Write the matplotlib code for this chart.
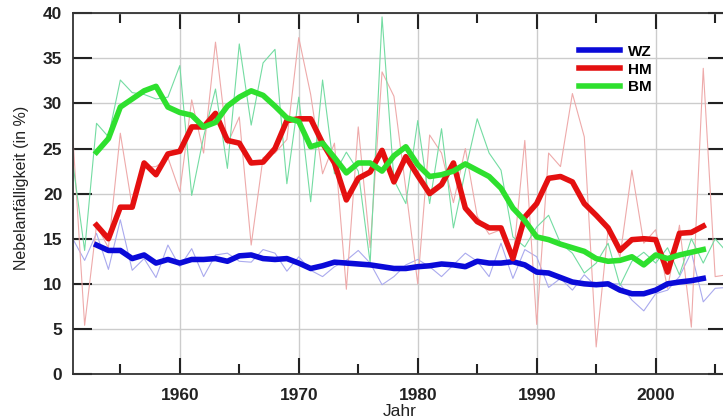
import matplotlib
matplotlib.use('Agg')
import matplotlib.pyplot as plt
from matplotlib.ticker import MultipleLocator

plt.rcParams['font.family'] = ['Liberation Sans', 'DejaVu Sans']

# yearly values (thin lines), 1951-2006
years = list(range(1951, 2007))
wz_year = [15.0, 12.6, 15.6, 11.6, 17.1, 11.5, 12.8, 10.7, 14.3, 11.9,
           13.9, 10.8, 13.2, 13.4, 12.5, 12.4, 13.8, 13.4, 11.4, 13.0,
           11.5, 10.8, 11.9, 12.6, 13.7, 12.3, 9.9, 10.8, 12.1, 12.7,
           11.9, 10.8, 12.1, 13.4, 12.5, 10.8, 14.5, 10.6, 13.8, 13.0,
           9.6, 10.6, 9.3, 11.0, 9.7, 10.0, 10.0, 8.2, 7.0, 8.9,
           9.3, 10.8, 13.5, 8.0, 9.5, 9.6]
hm_year = [26.5, 5.4, 16.5, 14.0, 26.7, 18.5, 22.9, 23.0, 24.0, 20.2,
           30.4, 24.5, 36.8, 25.5, 28.5, 14.3, 24.0, 24.5, 26.0, 37.3,
           31.0, 22.2, 25.6, 9.4, 27.4, 14.0, 33.5, 30.8, 20.5, 10.0,
           26.5, 24.5, 19.0, 25.0, 17.5, 15.5, 16.0, 12.5, 25.9, 5.5,
           24.5, 23.0, 31.1, 26.3, 3.0, 16.0, 13.0, 22.6, 14.5, 16.0,
           9.5, 16.5, 5.2, 33.9, 10.8, 11.0]
bm_year = [23.5, 13.7, 27.8, 26.3, 32.6, 31.2, 31.0, 30.5, 30.7, 34.2,
           19.8, 26.3, 31.6, 22.8, 36.6, 27.6, 34.5, 36.0, 21.1, 30.7,
           19.1, 32.6, 22.2, 24.6, 22.5, 12.3, 39.6, 21.5, 18.9, 28.1,
           18.9, 27.2, 16.2, 22.5, 28.3, 24.5, 22.6, 15.2, 14.1, 16.3,
           17.6, 14.5, 13.4, 11.2, 12.3, 14.5, 9.8, 12.5, 13.5, 12.3,
           14.0, 11.0, 15.0, 12.3, 15.0, 13.5]

# smoothed values (thick lines), 1953-2004
years_smooth = list(range(1953, 2005))
wz_smooth = [14.3, 13.7, 13.7, 12.8, 13.2, 12.3, 12.7, 12.3, 12.7, 12.7,
             12.8, 12.5, 13.1, 13.2, 12.8, 12.7, 12.8, 12.3, 11.7, 12.0,
             12.4, 12.3, 12.2, 12.1, 11.9, 11.7, 11.7, 11.9, 12.0, 12.2,
             12.1, 11.9, 12.5, 12.3, 12.3, 12.45, 12.1, 11.3, 11.2, 10.7,
             10.2, 10.0, 9.9, 10.0, 9.3, 8.9, 8.9, 9.3, 10.0, 10.2,
             10.35, 10.6]
hm_smooth = [16.5, 15.0, 18.5, 18.5, 23.4, 22.1, 24.4, 24.7, 27.4, 27.4,
             28.9, 25.9, 25.6, 23.4, 23.5, 25.0, 28.1, 28.3, 28.3, 25.6,
             23.4, 19.3, 21.7, 22.4, 24.8, 21.3, 24.1, 22.0, 20.0, 21.0,
             23.4, 18.4, 16.9, 16.2, 16.2, 12.8, 17.4, 18.9, 21.7, 21.9,
             21.3, 18.9, 17.6, 16.2, 13.7, 14.9, 15.0, 14.9, 11.3, 15.6,
             15.7, 16.4]
bm_smooth = [24.6, 26.1, 29.6, 30.5, 31.4, 31.9, 29.6, 29.0, 28.7, 27.4,
             27.9, 29.7, 30.7, 31.4, 30.9, 29.7, 28.4, 28.0, 25.2, 25.6,
             24.0, 22.3, 23.4, 23.4, 22.5, 24.2, 25.2, 23.2, 21.9, 22.1,
             22.5, 23.3, 22.6, 21.9, 20.6, 18.4, 17.0, 15.2, 14.9, 14.4,
             14.0, 13.6, 12.8, 12.5, 12.6, 13.0, 12.1, 13.2, 12.8, 13.2,
             13.5, 13.8]

fig = plt.figure(figsize=(7.23, 4.19), dpi=100)
ax = fig.add_axes([0.1006, 0.1074, 0.905, 0.8609])

# thin yearly lines
ax.plot(years, wz_year, color='#aaaaee', lw=0.8)
ax.plot(years, hm_year, color='#eeaaaa', lw=0.8)
ax.plot(years, bm_year, color='#74dca2', lw=0.8)

# thick smoothed lines
ax.plot(years_smooth, wz_smooth, color='#0a0ad8', lw=4.0, label='WZ')
ax.plot(years_smooth, hm_smooth, color='#e41010', lw=4.0, label='HM')
ax.plot(years_smooth, bm_smooth, color='#2ee02e', lw=4.0, label='BM')

ax.set_xlim(1951, 2006)
ax.set_ylim(0, 40)
ax.xaxis.set_major_locator(MultipleLocator(10))
ax.xaxis.set_minor_locator(MultipleLocator(5))
ax.yaxis.set_major_locator(MultipleLocator(5))

ax.grid(True, which='major', color='#cccccc', lw=1.0)
ax.set_axisbelow(True)

ax.tick_params(axis='x', which='major', direction='in', length=11.5, width=1.5,
               top=True, pad=10, labelsize=12.5, colors='#222222')
ax.tick_params(axis='x', which='minor', direction='in', length=7, width=1.5, top=True,
               colors='#222222')
ax.tick_params(axis='y', which='major', direction='in', length=13.5, width=1.5,
               right=True, pad=7.5, labelsize=12.5, colors='#222222')
for lab in ax.get_xticklabels() + ax.get_yticklabels():
    lab.set_fontweight('bold')
    lab.set_color('#222222')

for sp in ax.spines.values():
    sp.set_linewidth(1.3)
    sp.set_color('#333333')

ax.set_xlabel('Jahr', fontsize=12.5, color='#222222', labelpad=0)
ax.set_ylabel('Nebelanfälligkeit (in %)', fontsize=11.5, color='#222222')
ax.xaxis.set_label_coords(0.5, -0.083)
ax.yaxis.set_label_coords(-0.067, 0.516)

leg = ax.legend(loc='upper left', bbox_to_anchor=(0.762, 0.934), frameon=False,
                borderpad=0, handlelength=2.7, handletextpad=0.5, labelspacing=0.25,
                prop={'weight': 'bold', 'size': 11})

plt.savefig('out.png', dpi=100)
